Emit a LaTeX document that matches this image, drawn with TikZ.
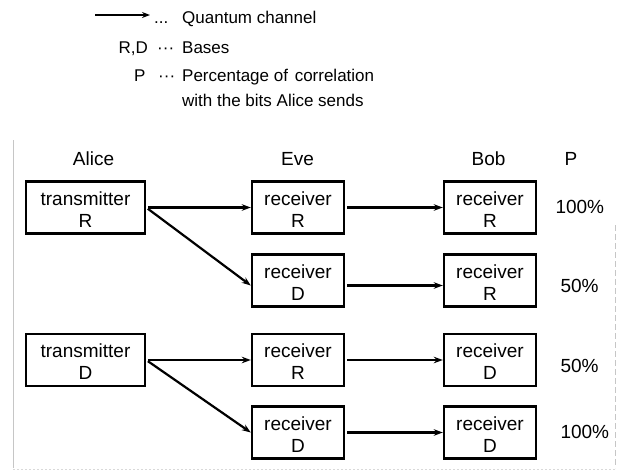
\documentclass[tikz,border=0pt]{standalone}
\usepackage{fontspec}
\setmainfont{Liberation Sans}
\usetikzlibrary{arrows.meta}

\newcommand\boxfont{\fontsize{19}{22}\selectfont}
\newcommand\legfont{\fontsize{17}{20}\selectfont}
\newcommand\twoline[2]{\rule{0pt}{17pt}#1\\#2}

\tikzset{
  box/.style={draw, line width=2.4pt, inner sep=0pt, minimum height=52pt,
              align=center, font=\boxfont},
  rxbox/.style={box, minimum width=92pt},
  txbox/.style={box, minimum width=119pt},
  chan/.style={line width=2.2pt, shorten <=2pt,
               -{Stealth[length=9pt,width=6.5pt]}},
  head/.style={anchor=base, font=\boxfont},
  pct/.style={anchor=base west, font=\boxfont},
  leg/.style={anchor=base west, font=\legfont, inner sep=0pt},
  frame/.style={gray!45, line width=0.7pt},
}

\begin{document}
\begin{tikzpicture}[x=1pt, y=-1pt]
\useasboundingbox (0,0) rectangle (619,472);

% faint outline of the figure panel
\draw[frame] (13,140) -- (13,468);
\draw[frame, dash pattern=on 6pt off 3pt] (615,225) -- (615,468);
\draw[frame, gray!30, dash pattern=on 2pt off 2pt] (13,469) -- (615,469);

% legend
\coordinate (lg0) at (95,15);
\coordinate (lg1) at (150,15);
\draw[line width=1.5pt, -{Stealth[length=8pt,width=6pt]}] (lg0) -- (lg1);
\node[leg] (l1d) at (154,23) {...};
\node[leg] (l1t) at (182,23) {Quantum channel};
\node[leg, anchor=base east] (l2k) at (148,53) {R,D};
\node[leg] (l2d) at (157,53) {···};
\node[leg] (l2t) at (182,53) {Bases};
\node[leg] (l3k) at (134,81) {P};
\node[leg] (l3d) at (158,81) {···};
\node[leg] (l3t) at (182,81) {Percentage of\hspace{2pt} correlation};
\node[leg] (l4t) at (182,106) {with the bits Alice sends};

% column headings
\node[head] (hA) at (93.5,165) {Alice};
\node[head] (hE) at (297.5,165) {Eve};
\node[head] (hB) at (488.5,165) {Bob};
\node[head] (hP) at (571,165) {P};

% senders
\node[txbox] (a1) at (85.5,207.5) {\twoline{transmitter}{R}};
\node[txbox] (a2) at (85.5,360)   {\twoline{transmitter}{D}};

% eavesdropper
\node[rxbox] (e1) at (298,207.5) {\twoline{receiver}{R}};
\node[rxbox] (e2) at (298,280.5) {\twoline{receiver}{D}};
\node[rxbox] (e3) at (298,360)   {\twoline{receiver}{R}};
\node[rxbox] (e4) at (298,432.5) {\twoline{receiver}{D}};

% receivers
\node[rxbox] (b1) at (490,207.5) {\twoline{receiver}{R}};
\node[rxbox] (b2) at (490,280.5) {\twoline{receiver}{R}};
\node[rxbox] (b3) at (490,360)   {\twoline{receiver}{D}};
\node[rxbox] (b4) at (490,432.5) {\twoline{receiver}{D}};

% correlation percentages
\node[pct] (p1) at (552,213) {100\%};
\node[pct] (p2) at (557,292) {50\%};
\node[pct] (p3) at (557,372) {50\%};
\node[pct] (p4) at (557,438) {100\%};

% quantum channels
\draw[chan] (a1.east) -- (e1.west);
\draw[chan] (a1.east) -- ([yshift=-5pt]e2.west);
\draw[chan] (a2.east) -- (e3.west);
\draw[chan] (a2.east) -- (e4.west);
\draw[chan] (e1.east) -- (b1.west);
\draw[chan] ([yshift=-5pt]e2.east) -- ([yshift=-5pt]b2.west);
\draw[chan] (e3.east) -- (b3.west);
\draw[chan] (e4.east) -- (b4.west);
\end{tikzpicture}
\end{document}
